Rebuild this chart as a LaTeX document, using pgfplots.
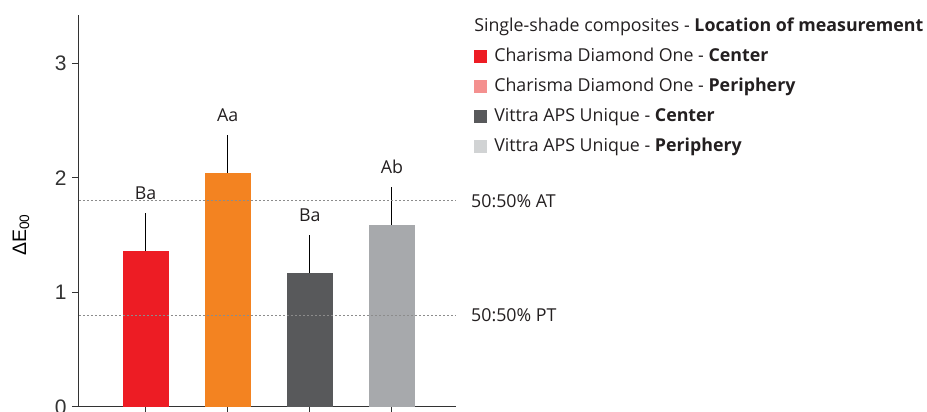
\documentclass[border=0pt]{standalone}
\usepackage{fontspec}
\setmainfont{Open Sans}
\newfontfamily\arialf{Liberation Sans}
\usepackage{pgfplots}
\pgfplotsset{compat=1.18}
\definecolor{cred}{HTML}{ED1C24}
\definecolor{corange}{HTML}{F38321}
\definecolor{cdgray}{HTML}{58595B}
\definecolor{cmgray}{HTML}{A7A9AC}
\definecolor{cpink}{HTML}{F4908F}
\definecolor{clgray}{HTML}{D1D3D4}
\definecolor{axc}{HTML}{333333}
\definecolor{txt}{HTML}{231F20}
\pgfplotsset{sq/.style={legend image code/.code={\fill[##1, draw=none] (0pt,-6.5pt) rectangle (13pt,6.5pt);}}}
\begin{document}
\begin{tikzpicture}
\begin{axis}[name=ax, scale only axis, width=377pt, height=392pt,
  xmin=-0.81, xmax=3.78, ymin=0, ymax=3.42,
  axis x line=bottom, axis y line=left,
  axis line style={-, axc, line width=1pt},
  xtick={0,1,2,3}, xticklabels={}, ytick={0,1,2,3},
  tick style={axc, line width=1pt}, major tick length=7pt, tick align=outside,
  yticklabel style={font=\arialf\fontsize{21}{21}\selectfont, text=axc, xshift=-2pt},
  /pgf/number format/assume math mode=true,
  every axis y label/.style={at={(rel axis cs:0,0.439)}, xshift=-58pt, rotate=90, anchor=center},
  ylabel={\arialf\fontsize{19.5}{19.5}\selectfont ΔE\textsubscript{00}},
  clip=false,
  legend style={at={(rel axis cs:1.04,1.0)}, anchor=north west, yshift=-1pt, draw=none, fill=none,
    font=\fontsize{17.8}{17.8}\selectfont, text=txt, row sep=13pt, column sep=7pt,
    nodes={inner sep=0pt, text height=13pt, text depth=4pt}},
  legend cell align=left,
]
\addplot[ybar, bar width=46pt, bar shift=0pt, fill=cred, draw=none, forget plot,
  error bars/.cd, y dir=plus, y explicit, error mark=none,
  error bar style={draw=black, line width=1pt}] coordinates {(0,1.36) +- (0,0.33)};
\addplot[ybar, bar width=46pt, bar shift=0pt, fill=corange, draw=none, forget plot,
  error bars/.cd, y dir=plus, y explicit, error mark=none,
  error bar style={draw=black, line width=1pt}] coordinates {(1,2.04) +- (0,0.33)};
\addplot[ybar, bar width=46pt, bar shift=0pt, fill=cdgray, draw=none, forget plot,
  error bars/.cd, y dir=plus, y explicit, error mark=none,
  error bar style={draw=black, line width=1pt}] coordinates {(2,1.17) +- (0,0.33)};
\addplot[ybar, bar width=46pt, bar shift=0pt, fill=cmgray, draw=none, forget plot,
  error bars/.cd, y dir=plus, y explicit, error mark=none,
  error bar style={draw=black, line width=1pt}] coordinates {(3,1.59) +- (0,0.33)};
% significance letters
\addplot[draw=none, mark=none, forget plot, nodes near coords, point meta=explicit symbolic,
  every node near coord/.style={anchor=south, inner sep=0pt, yshift=13pt, font=\fontsize{17.8}{17.8}\selectfont, text=txt}]
  coordinates {(0,1.69)[Ba] (1,2.37)[Aa] (2,1.50)[Ba] (3,1.92)[Ab]};
% reference lines
\addplot[forget plot, color=gray!90, line width=0.8pt, dash pattern=on 2pt off 2pt] coordinates {(-0.81,1.8) (3.78,1.8)};
\addplot[forget plot, color=gray!90, line width=0.8pt, dash pattern=on 2pt off 2pt] coordinates {(-0.81,0.8) (3.78,0.8)};
\node[anchor=west, inner sep=0pt, font=\fontsize{17.8}{17.8}\selectfont, text=txt] at (axis cs:3.78,1.8) [xshift=15pt] {50:50\% AT};
\node[anchor=west, inner sep=0pt, font=\fontsize{17.8}{17.8}\selectfont, text=txt] at (axis cs:3.78,0.8) [xshift=15pt] {50:50\% PT};
% legend
\addlegendimage{empty legend}
\addlegendentry{\hspace{-20pt}Single-shade composites - \textbf{Location of measurement}}
\addlegendimage{sq, fill=cred}
\addlegendentry{Charisma Diamond One - \textbf{Center}}
\addlegendimage{sq, fill=cpink}
\addlegendentry{Charisma Diamond One - \textbf{Periphery}}
\addlegendimage{sq, fill=cdgray}
\addlegendentry{Vittra APS Unique - \textbf{Center}}
\addlegendimage{sq, fill=clgray}
\addlegendentry{Vittra APS Unique - \textbf{Periphery}}
\end{axis}
\pgfresetboundingbox
\path ([xshift=-79pt,yshift=-5pt]ax.south west) rectangle ([xshift=471pt,yshift=15pt]ax.north east);
\end{tikzpicture}
\end{document}
